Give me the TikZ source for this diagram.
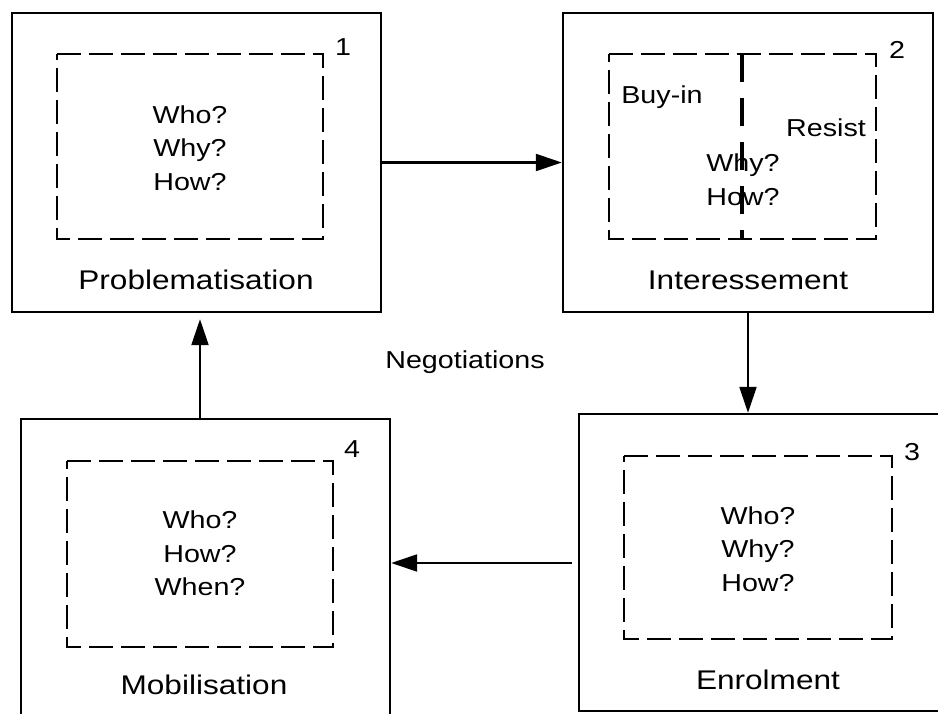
\documentclass[tikz,border=0pt]{standalone}
\usepackage{fontspec}
\setmainfont[FakeStretch=1.17]{Liberation Sans}
\usetikzlibrary{arrows.meta}

\tikzset{
  stage/.style={draw, line width=2.4pt, rectangle, minimum width=369pt, minimum height=299pt, inner sep=0pt},
  question/.style={draw, line width=2.6pt, dash pattern=on 24pt off 8pt, rectangle, inner sep=0pt},
  qtext/.style={align=center, inner sep=0pt, font=\fontsize{24.5}{33.5}\selectfont},
  stagename/.style={inner sep=0pt, font=\fontsize{27}{30}\selectfont},
  stepnum/.style={inner sep=0pt, font=\fontsize{24.5}{27}\selectfont},
  flow/.style={line width=2.2pt, -{Triangle[length=26pt,width=17pt]}},
  divider/.style={line width=3.2pt, dash pattern=on 28pt off 16pt}
}

\begin{document}
\begin{tikzpicture}[x=1pt, y=-1pt]
  \useasboundingbox (0,0) rectangle (938,713);
  \fill[white] (0,0) rectangle (938,713);
  \clip (0,0) rectangle (938,713);

  % the four stages of translation
  \node[stage] (p1) at (196.5,162.5) {};
  \node[stage, minimum width=370pt] (p2) at (748,162.5) {};
  \node[stage, minimum width=370pt, minimum height=297pt] (p3) at (764,562.5) {};
  \node[stage] (p4) at (205.5,568.5) {};

  % inner dashed question frames
  \draw[question] (57,54) -- (323,54) -- (323,239) -- (57,239) -- cycle;
  \draw[question] (609,54) -- (876,54) -- (876,239) -- (609,239) -- cycle;
  \draw[question] (624,456) -- (892,456) -- (892,639) -- (624,639) -- cycle;
  \draw[question] (67,461) -- (333,461) -- (333,647) -- (67,647) -- cycle;

  % buy-in / resist split
  \coordinate (dtop) at (742,54);
  \coordinate (dbot) at (742,239);
  \draw[divider] (dtop) -- (dbot);

  % step numbers
  \node[stepnum] (n1) at (343,47) {1};
  \node[stepnum] (n2) at (897,50) {2};
  \node[stepnum] (n3) at (912,452) {3};
  \node[stepnum] (n4) at (352,449) {4};

  % questions
  \node[qtext] (q1) at (190,148) {Who?\\Why?\\How?};
  \node[qtext] (buy) at (662,97) {Buy-in};
  \node[qtext] (res) at (826,128) {Resist};
  \node[qtext] (q2) at (743,179.5) {Why?\\How?};
  \node[qtext] (q3) at (758,549) {Who?\\Why?\\How?};
  \node[qtext] (q4) at (200,553.5) {Who?\\How?\\When?};

  % stage names
  \node[stagename] (l1) at (196,280) {Problematisation};
  \node[stagename] (l2) at (748,280) {Interessement};
  \node[stagename] (l3) at (768,680) {Enrolment};
  \node[stagename] (l4) at (204,685) {Mobilisation};

  \node[qtext] (neg) at (465,362) {Negotiations};

  % flow between stages
  \draw[flow] (p1.east) -- (p2.west);
  \draw[flow] (p2.south) -- (p2.south |- p3.north);
  \draw[flow, shorten <=6pt] (p3.west |- 0,563) -- (p4.east |- 0,563);
  \draw[flow, shorten >=6pt] ([xshift=-5.5pt]p4.north) -- ([xshift=-5.5pt]p4.north |- p1.south);
\end{tikzpicture}
\end{document}
